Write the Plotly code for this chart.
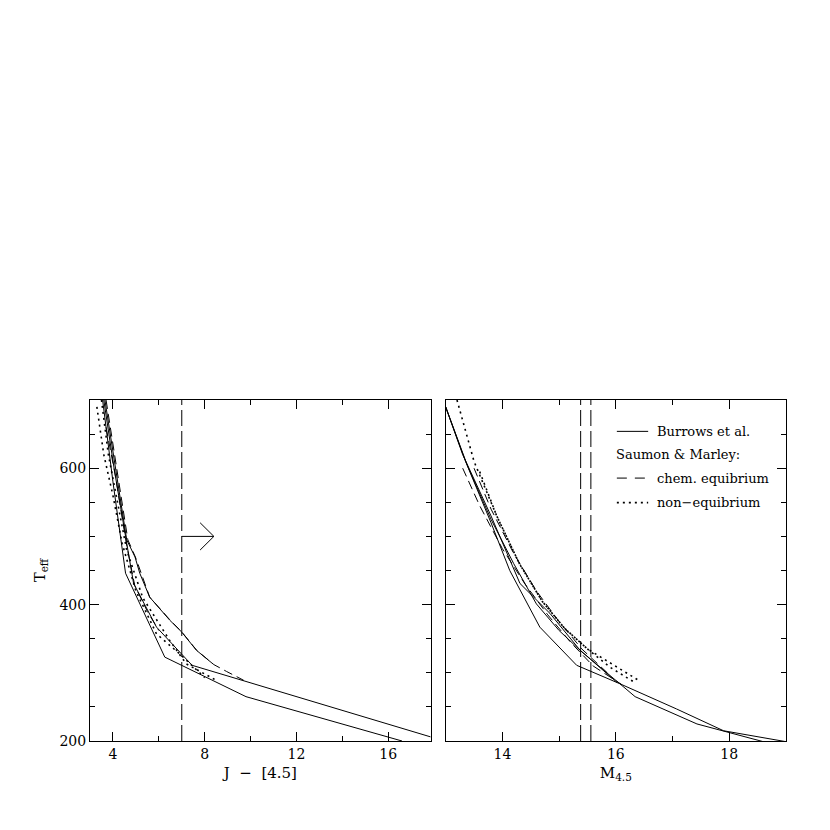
import plotly.graph_objects as go

# ---- left panel: J - [4.5] vs Teff ----
jb1_x = [3.55, 4.0, 4.55, 6.26, 9.8, 16.6]
jb1_t = [700, 580, 446, 323, 265, 200]
jb2_x = [3.6, 4.05, 4.6, 4.9, 5.9, 7.45, 17.85]
jb2_t = [700, 600, 490, 431, 367, 311, 206]
jb3_x = [3.65, 4.1, 4.6, 4.96, 5.17, 5.6, 6.48, 6.99, 7.64, 8.36]
jb3_t = [700, 600, 495, 470, 446, 411, 377, 360, 333, 313]

jse1_x = [3.7, 4.15, 4.65, 5.0, 5.6, 6.5, 7.0, 7.65, 8.4, 8.95, 9.7]
jse1_t = [700, 600, 495, 468, 411, 377, 360, 333, 312, 302, 289]
jse2_x = [3.7, 4.1, 4.6, 4.95, 5.5, 6.0]
jse2_t = [660, 590, 487, 428, 390, 362]

jsn1_x = [3.3, 3.6, 4.0, 4.4, 5.0, 5.9, 6.9, 8.0]
jsn1_t = [690, 620, 560, 490, 420, 357, 328, 293]
jsn2_x = [3.5, 3.8, 4.2, 4.6, 5.3, 6.48, 7.2, 8.5]
jsn2_t = [700, 620, 550, 480, 410, 347, 313, 289]

j_cut = 7.0
arrow_x = [7.8, 8.4, 7.8]
arrow_t = [520, 500, 480]
arrow_shaft_x = [7.0, 8.4]
arrow_shaft_t = [500, 500]

# ---- right panel: M_4.5 vs Teff ----
mb1_x = [13.0, 13.4, 13.8, 14.13, 14.66, 15.31, 16.07, 16.34, 17.43, 17.9, 18.6]
mb1_t = [690, 600, 520, 450, 367, 311, 284, 265, 225, 215, 199]
mb2_x = [13.0, 13.3, 13.8, 14.31, 14.84, 15.37, 16.07, 17.07, 17.9, 19.0]
mb2_t = [690, 620, 530, 431, 387, 333, 284, 247, 215, 199]
mb3_x = [13.0, 13.35, 13.8, 14.2, 14.6, 15.0, 15.37, 16.02]
mb3_t = [690, 610, 525, 460, 401, 362, 333, 286]

mse1_x = [13.3, 13.6, 14.0, 14.4, 14.8, 15.2, 15.6, 16.1]
mse1_t = [600, 545, 482, 430, 385, 345, 310, 283]
mse2_x = [13.5, 13.8, 14.2, 14.6, 15.0, 15.4, 15.85]
mse2_t = [600, 540, 475, 420, 375, 335, 300]

msn1_x = [13.2, 13.5, 13.9, 14.3, 14.7, 15.1, 15.5, 16.0, 16.4]
msn1_t = [700, 610, 530, 460, 405, 365, 335, 310, 289]
msn2_x = [13.6, 13.9, 14.3, 14.7, 15.1, 15.5, 15.9, 16.35]
msn2_t = [595, 530, 460, 405, 365, 335, 308, 285]

m_cuts = [15.38, 15.56]

legend_labels = ["Burrows et al.", "Saumon & Marley:", "chem. equibrium", "non\u2212equibrium"]

FONT = "DejaVu Serif"
solid = dict(color="black", width=1)
dashed = dict(color="black", width=1, dash="9px,5px")
dotted = dict(color="black", width=1.6, dash="2px,4px")
cutline = dict(color="black", width=1, dash="16px,5px")

fig = go.Figure()

def add(x, y, line, ax="x", ay="y"):
    fig.add_trace(go.Scatter(x=x, y=y, mode="lines", line=line,
                             xaxis=ax, yaxis=ay, showlegend=False, hoverinfo="skip"))

for xs, ts in [(jb1_x, jb1_t), (jb2_x, jb2_t), (jb3_x, jb3_t)]:
    add(xs, ts, solid)
for xs, ts in [(jse1_x, jse1_t), (jse2_x, jse2_t)]:
    add(xs, ts, dashed)
for xs, ts in [(jsn1_x, jsn1_t), (jsn2_x, jsn2_t)]:
    add(xs, ts, dotted)
add([j_cut, j_cut], [200, 700], cutline)
add(arrow_shaft_x, arrow_shaft_t, solid)
add(arrow_x, arrow_t, solid)

for xs, ts in [(mb1_x, mb1_t), (mb2_x, mb2_t), (mb3_x, mb3_t)]:
    add(xs, ts, solid, "x2", "y2")
for xs, ts in [(mse1_x, mse1_t), (mse2_x, mse2_t)]:
    add(xs, ts, dashed, "x2", "y2")
for xs, ts in [(msn1_x, msn1_t), (msn2_x, msn2_t)]:
    add(xs, ts, dotted, "x2", "y2")
for c in m_cuts:
    add([c, c], [200, 700], cutline, "x2", "y2")

# legend drawn by hand inside the right panel
leg_y = [0.908, 0.839, 0.771, 0.699]
sample_lines = [solid, None, dict(color="black", width=1, dash="10px,8px"), dotted]
for lab, yy, ln in zip(legend_labels, leg_y, sample_lines):
    if ln is not None:
        fig.add_shape(type="line", xref="x2 domain", yref="y2 domain",
                      x0=0.503, x1=0.595, y0=yy, y1=yy, line=ln)
        tx = 0.615
    else:
        tx = 0.496
    fig.add_annotation(text=lab, xref="x2 domain", yref="y2 domain", x=tx, y=yy,
                       xanchor="left", yanchor="middle", showarrow=False,
                       font=dict(family=FONT, size=13, color="black"))

axis_common = dict(showgrid=False, zeroline=False, showline=True, linecolor="black",
                   linewidth=1, mirror="allticks", ticks="inside", ticklen=9,
                   tickcolor="black", automargin=False,
                   tickfont=dict(family=FONT, size=14, color="black"))
title_font = dict(family=FONT, size=15, color="black")
minor_tk = dict(ticklen=5, ticks="inside", tickcolor="black")

fig.update_layout(
    width=830, height=830,
    margin=dict(l=82, r=52, t=392, b=97),
    plot_bgcolor="white", paper_bgcolor="white",
    xaxis=dict(domain=[0, 0.4895], range=[3, 17.85], dtick=4, tick0=0,
               minor=dict(dtick=2, **minor_tk),
               title=dict(text="J&nbsp;&nbsp;\u2212&nbsp;&nbsp;[4.5]", font=title_font, standoff=6),
               anchor="y", **axis_common),
    yaxis=dict(domain=[0, 1], range=[200, 700], dtick=200, tick0=0,
               minor=dict(dtick=50, **minor_tk),
               title=dict(text="T<sub>eff</sub>", font=title_font, standoff=10),
               anchor="x", **axis_common),
    xaxis2=dict(domain=[0.511, 1], range=[13, 19], dtick=2, tick0=0,
                minor=dict(dtick=1, **minor_tk),
                title=dict(text="M<sub>4.5</sub>", font=title_font, standoff=6),
                anchor="y2", **axis_common),
    yaxis2=dict(domain=[0, 1], range=[200, 700], dtick=200, tick0=0, showticklabels=False,
                minor=dict(dtick=50, **minor_tk),
                anchor="x2", **axis_common),
)

fig.write_html("out.html")
